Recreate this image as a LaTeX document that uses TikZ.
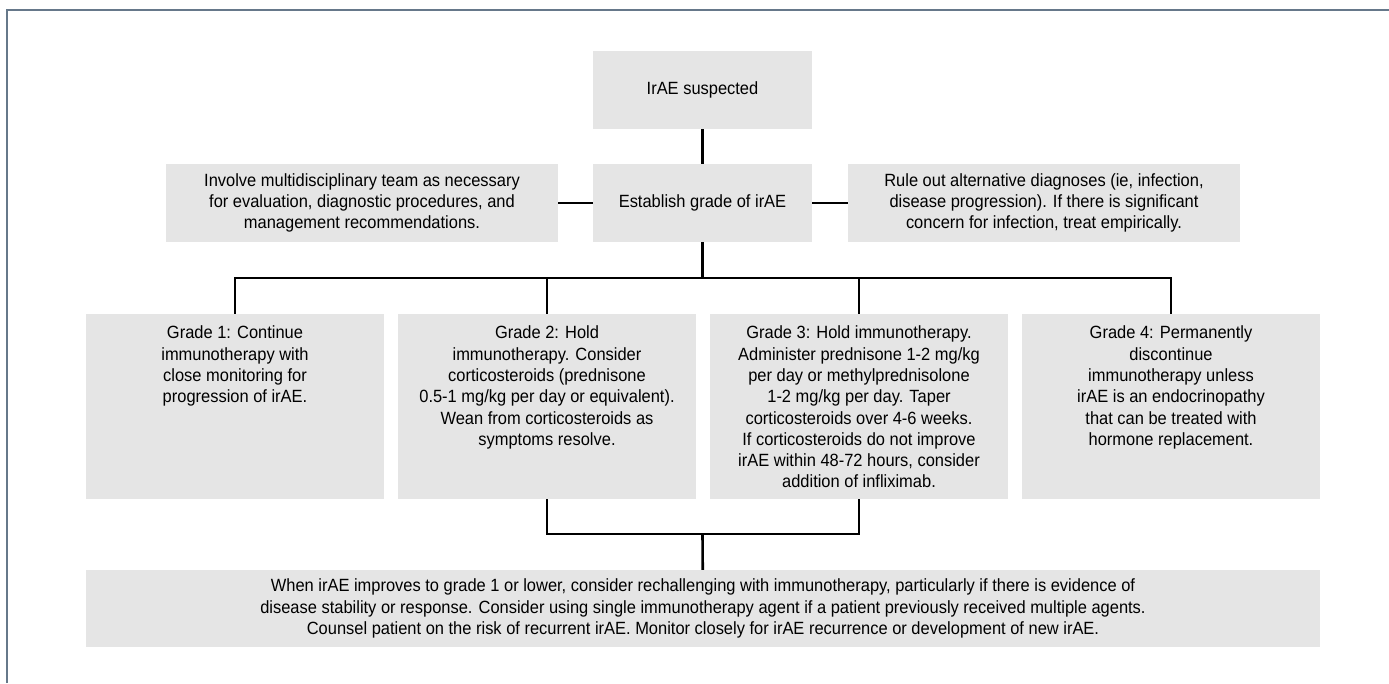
\documentclass[tikz,border=0pt]{standalone}
\usepackage{fontspec}
\setmainfont{Liberation Sans}[FakeStretch=0.93]
\usepackage{tikz}
\definecolor{boxgray}{HTML}{E5E5E5}
\definecolor{framegray}{HTML}{66788A}

\begin{document}
\begin{tikzpicture}[x=1pt,y=-1pt,
  cell/.style={fill=boxgray,inner sep=0pt,font=\fontsize{17.7}{21.3}\selectfont},
  topbox/.style={cell,align=center,minimum width=219pt,minimum height=78pt},
  widebox/.style={cell,align=center,minimum width=392pt,minimum height=78pt},
  gradebox/.style={cell,minimum width=298pt,minimum height=185pt,
    execute at begin node={\begin{minipage}[c][161pt][t]{292pt}\centering},
    execute at end node={\end{minipage}}},
  link/.style={line width=2.6pt}]
\useasboundingbox (0,0) rectangle (1389,683);
\draw[framegray,line width=2pt] (6.5,683) -- (6.5,10) -- (1389,10);

\node[topbox] (susp) at (702.5,90) {IrAE suspected};
\node[topbox] (grade) at (702.5,203) {Establish grade of irAE};
\node[widebox] (team) at (362,203) {Involve multidisciplinary team as necessary\\
    for evaluation, diagnostic procedures, and\\management recommendations.};
\node[widebox] (rule) at (1044,203) {Rule out alternative diagnoses (ie, infection,\\
    disease progression). If there is significant\\concern for infection, treat empirically.};

\node[gradebox] (g1) at (235,406.5) {Grade 1: Continue\\immunotherapy with\\
    close monitoring for\\progression of irAE.};
\node[gradebox] (g2) at (547,406.5) {Grade 2: Hold\\immunotherapy. Consider\\
    corticosteroids (prednisone\\0.5-1 mg/kg per day or equivalent).\\
    Wean from corticosteroids as\\symptoms resolve.};
\node[gradebox] (g3) at (859,406.5) {Grade 3: Hold immunotherapy.\\
    Administer prednisone 1-2 mg/kg\\per day or methylprednisolone\\
    1-2 mg/kg per day. Taper\\corticosteroids over 4-6 weeks.\\
    If corticosteroids do not improve\\irAE within 48-72 hours, consider\\
    addition of infliximab.};
\node[gradebox] (g4) at (1171,406.5) {Grade 4: Permanently\\discontinue\\
    immunotherapy unless\\irAE is an endocrinopathy\\
    that can be treated with\\hormone replacement.};

\node[cell,align=center,minimum width=1234pt,minimum height=77pt] (rechal) at (703,608.5)
  {When irAE improves to grade 1 or lower, consider rechallenging with immunotherapy, particularly if there is evidence of\\
   disease stability or response. Consider using single immunotherapy agent if a patient previously received multiple agents.\\
   Counsel patient on the risk of recurrent irAE. Monitor closely for irAE recurrence or development of new irAE.};

\coordinate (bus) at (702.5,278);
\coordinate (join) at (702.5,534);

% connectors
\draw[link] (susp) -- (grade);
\draw[link] (team) -- (grade);
\draw[link] (grade) -- (rule);
\draw[link] (grade) -- (bus);
\draw[link] (g1.north) |- (bus) -| (g4.north);
\foreach \g in {g2,g3}
  \draw[link] (\g.north |- bus) -- (\g.north);
\draw[link] (g2.south) |- (join) -| (g3.south);
\draw[link] (join) -- (rechal);
\end{tikzpicture}
\end{document}
